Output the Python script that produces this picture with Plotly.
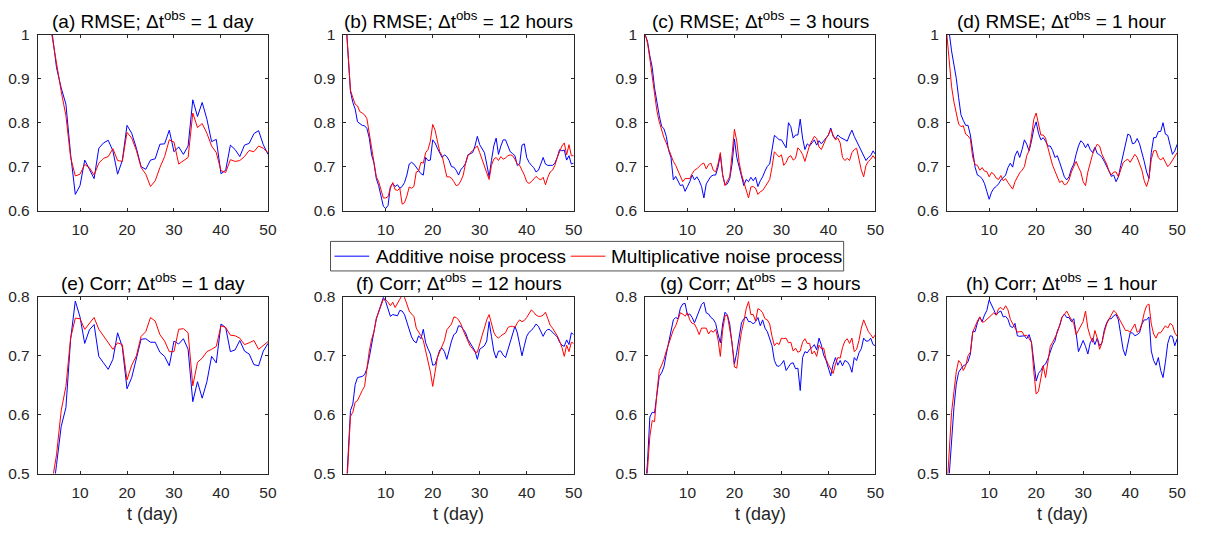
import numpy as np
import plotly.graph_objects as go

# ---------------------------------------------------------------- data
# time axes (day)
t_day = np.arange(1, 51)            # one value per day
t_half = np.arange(1, 50.5, 0.5)    # one value per half day

# (a) RMSE, obs every day
rmse_1d_add = [1.30, 1.18, 1.07, 1.01, 0.925, 0.879, 0.842, 0.728, 0.637, 0.657,
               0.715, 0.694, 0.673, 0.742, 0.754, 0.760, 0.736, 0.683, 0.714, 0.794,
               0.776, 0.742, 0.700, 0.694, 0.715, 0.718, 0.751, 0.752, 0.783, 0.734,
               0.745, 0.728, 0.747, 0.852, 0.814, 0.846, 0.808, 0.757, 0.762, 0.684,
               0.692, 0.749, 0.739, 0.723, 0.749, 0.753, 0.775, 0.782, 0.750, 0.728]
rmse_1d_mul = [1.28, 1.16, 1.06, 1.00, 0.934, 0.871, 0.816, 0.721, 0.679, 0.683,
               0.705, 0.698, 0.681, 0.708, 0.719, 0.723, 0.741, 0.714, 0.712, 0.778,
               0.765, 0.737, 0.698, 0.683, 0.655, 0.668, 0.698, 0.723, 0.761, 0.756,
               0.706, 0.713, 0.721, 0.822, 0.789, 0.798, 0.776, 0.747, 0.732, 0.691,
               0.687, 0.716, 0.712, 0.714, 0.723, 0.737, 0.734, 0.747, 0.742, 0.732]

# (e) Corr, obs every day
corr_1d_add = [0.20, 0.28, 0.36, 0.45, 0.515, 0.580, 0.612, 0.728, 0.793, 0.766,
               0.721, 0.744, 0.753, 0.699, 0.688, 0.677, 0.694, 0.739, 0.715, 0.644,
               0.663, 0.697, 0.728, 0.729, 0.723, 0.723, 0.706, 0.699, 0.683, 0.725,
               0.720, 0.729, 0.711, 0.622, 0.656, 0.628, 0.656, 0.699, 0.688, 0.754,
               0.748, 0.707, 0.710, 0.726, 0.708, 0.703, 0.685, 0.683, 0.708, 0.721]
corr_1d_mul = [0.22, 0.31, 0.40, 0.483, 0.532, 0.607, 0.648, 0.730, 0.764, 0.763,
               0.745, 0.756, 0.765, 0.745, 0.733, 0.723, 0.711, 0.722, 0.719, 0.659,
               0.684, 0.700, 0.733, 0.741, 0.765, 0.759, 0.736, 0.725, 0.707, 0.707,
               0.745, 0.746, 0.739, 0.649, 0.689, 0.696, 0.707, 0.711, 0.716, 0.751,
               0.748, 0.735, 0.734, 0.730, 0.719, 0.722, 0.726, 0.711, 0.718, 0.724]

# (b) RMSE, obs every 12 hours  (rows of ten half-day values: t = 1..5.5, 6..10.5, ...)
rmse_12h_add = [1.12, 1.03, 0.952, 0.871, 0.846, 0.831, 0.802, 0.797, 0.794, 0.793,
                0.787, 0.765, 0.727, 0.708, 0.673, 0.657, 0.633, 0.610, 0.605, 0.612,
                0.655, 0.662, 0.655, 0.659, 0.651, 0.655, 0.664, 0.681, 0.706, 0.710,
                0.706, 0.698, 0.692, 0.684, 0.681, 0.721, 0.714, 0.715, 0.761, 0.754,
                0.742, 0.732, 0.721, 0.727, 0.723, 0.714, 0.700, 0.699, 0.692, 0.681,
                0.694, 0.699, 0.708, 0.727, 0.730, 0.732, 0.747, 0.769, 0.750, 0.742,
                0.732, 0.706, 0.677, 0.714, 0.747, 0.765, 0.728, 0.747, 0.761, 0.761,
                0.747, 0.734, 0.730, 0.725, 0.703, 0.706, 0.749, 0.752, 0.721, 0.710,
                0.703, 0.698, 0.688, 0.692, 0.706, 0.721, 0.706, 0.703, 0.703, 0.703,
                0.708, 0.721, 0.739, 0.736, 0.738, 0.715, 0.725, 0.706, 0.708]
rmse_12h_mul = [1.12, 1.03, 0.940, 0.874, 0.857, 0.842, 0.838, 0.825, 0.822, 0.818,
                0.809, 0.780, 0.743, 0.710, 0.677, 0.666, 0.644, 0.629, 0.629, 0.632,
                0.651, 0.664, 0.648, 0.646, 0.651, 0.615, 0.618, 0.633, 0.654, 0.651,
                0.655, 0.688, 0.690, 0.710, 0.708, 0.732, 0.739, 0.758, 0.796, 0.783,
                0.758, 0.734, 0.725, 0.699, 0.677, 0.677, 0.674, 0.666, 0.657, 0.659,
                0.668, 0.681, 0.708, 0.725, 0.732, 0.737, 0.742, 0.747, 0.732, 0.717,
                0.703, 0.688, 0.671, 0.703, 0.717, 0.721, 0.714, 0.723, 0.717, 0.720,
                0.725, 0.727, 0.725, 0.717, 0.706, 0.703, 0.693, 0.681, 0.666, 0.662,
                0.666, 0.671, 0.678, 0.673, 0.670, 0.676, 0.659, 0.676, 0.688, 0.692,
                0.703, 0.721, 0.736, 0.747, 0.754, 0.727, 0.750, 0.725, 0.725]

# (f) Corr, obs every 12 hours
corr_12h_add = [0.38, 0.46, 0.55, 0.607, 0.618, 0.651, 0.663, 0.664, 0.665, 0.668,
                0.678, 0.697, 0.722, 0.741, 0.763, 0.774, 0.788, 0.799, 0.792, 0.778,
                0.767, 0.770, 0.769, 0.768, 0.777, 0.776, 0.770, 0.758, 0.744, 0.732,
                0.725, 0.722, 0.734, 0.729, 0.745, 0.722, 0.712, 0.703, 0.684, 0.685,
                0.697, 0.710, 0.713, 0.707, 0.694, 0.711, 0.725, 0.736, 0.739, 0.751,
                0.750, 0.745, 0.739, 0.728, 0.721, 0.716, 0.708, 0.694, 0.711, 0.714,
                0.717, 0.725, 0.758, 0.733, 0.708, 0.696, 0.708, 0.708, 0.701, 0.697,
                0.711, 0.725, 0.736, 0.750, 0.739, 0.722, 0.700, 0.717, 0.733, 0.740,
                0.743, 0.748, 0.754, 0.750, 0.741, 0.733, 0.741, 0.745, 0.744, 0.740,
                0.736, 0.732, 0.723, 0.718, 0.716, 0.727, 0.719, 0.739, 0.736]
corr_12h_mul = [0.37, 0.45, 0.54, 0.597, 0.604, 0.621, 0.624, 0.634, 0.641, 0.648,
                0.679, 0.708, 0.728, 0.741, 0.763, 0.774, 0.784, 0.796, 0.795, 0.791,
                0.785, 0.791, 0.782, 0.788, 0.796, 0.803, 0.799, 0.788, 0.776, 0.771,
                0.767, 0.747, 0.741, 0.734, 0.726, 0.707, 0.694, 0.673, 0.648, 0.675,
                0.697, 0.707, 0.717, 0.726, 0.744, 0.750, 0.754, 0.766, 0.765, 0.761,
                0.754, 0.743, 0.734, 0.723, 0.716, 0.712, 0.706, 0.706, 0.722, 0.734,
                0.747, 0.761, 0.770, 0.754, 0.740, 0.733, 0.730, 0.734, 0.736, 0.739,
                0.748, 0.750, 0.750, 0.748, 0.756, 0.761, 0.758, 0.760, 0.765, 0.771,
                0.778, 0.774, 0.769, 0.767, 0.767, 0.769, 0.774, 0.763, 0.752, 0.747,
                0.741, 0.734, 0.725, 0.714, 0.699, 0.718, 0.707, 0.723, 0.721]

# (c) RMSE, obs every 3 hours (read every half day)
rmse_3h_add = [1.000, 0.985, 0.952, 0.926, 0.879, 0.842, 0.816, 0.792, 0.786, 0.769,
               0.737, 0.721, 0.670, 0.678, 0.668, 0.657, 0.659, 0.644, 0.655, 0.666,
               0.681, 0.670, 0.677, 0.668, 0.655, 0.629, 0.661, 0.671, 0.678, 0.681,
               0.681, 0.699, 0.727, 0.681, 0.659, 0.661, 0.673, 0.706, 0.763, 0.721,
               0.698, 0.678, 0.657, 0.671, 0.666, 0.676, 0.668, 0.676, 0.655, 0.668,
               0.677, 0.690, 0.701, 0.706, 0.742, 0.771, 0.767, 0.761, 0.761, 0.752,
               0.743, 0.800, 0.791, 0.765, 0.772, 0.772, 0.808, 0.765, 0.739, 0.752,
               0.747, 0.754, 0.761, 0.749, 0.759, 0.752, 0.759, 0.767, 0.772, 0.788,
               0.769, 0.763, 0.772, 0.767, 0.764, 0.760, 0.758, 0.772, 0.783, 0.769,
               0.758, 0.749, 0.738, 0.725, 0.714, 0.721, 0.725, 0.736, 0.728]
rmse_3h_mul = [1.000, 0.981, 0.945, 0.904, 0.868, 0.827, 0.802, 0.781, 0.766, 0.754,
               0.739, 0.722, 0.712, 0.703, 0.690, 0.676, 0.666, 0.673, 0.673, 0.673,
               0.684, 0.692, 0.695, 0.701, 0.706, 0.708, 0.695, 0.705, 0.708, 0.692,
               0.688, 0.706, 0.732, 0.681, 0.657, 0.668, 0.677, 0.728, 0.785, 0.758,
               0.710, 0.683, 0.664, 0.646, 0.629, 0.654, 0.655, 0.651, 0.637, 0.643,
               0.646, 0.654, 0.664, 0.671, 0.699, 0.734, 0.728, 0.722, 0.727, 0.703,
               0.710, 0.722, 0.725, 0.715, 0.719, 0.743, 0.737, 0.728, 0.712, 0.728,
               0.749, 0.759, 0.769, 0.764, 0.745, 0.739, 0.752, 0.764, 0.772, 0.785,
               0.772, 0.761, 0.765, 0.754, 0.721, 0.714, 0.719, 0.714, 0.732, 0.739,
               0.742, 0.717, 0.692, 0.677, 0.703, 0.712, 0.717, 0.725, 0.717]

# (g) Corr, obs every 3 hours (read every half day)
corr_3h_add = [0.470, 0.519, 0.596, 0.604, 0.603, 0.637, 0.665, 0.671, 0.681, 0.703,
               0.721, 0.739, 0.761, 0.765, 0.763, 0.781, 0.788, 0.789, 0.769, 0.771,
               0.765, 0.756, 0.767, 0.776, 0.787, 0.791, 0.773, 0.771, 0.765, 0.762,
               0.755, 0.737, 0.722, 0.754, 0.774, 0.769, 0.754, 0.719, 0.686, 0.706,
               0.732, 0.756, 0.763, 0.766, 0.758, 0.758, 0.754, 0.758, 0.765, 0.751,
               0.761, 0.747, 0.741, 0.730, 0.717, 0.692, 0.683, 0.682, 0.686, 0.692,
               0.675, 0.681, 0.687, 0.688, 0.678, 0.679, 0.641, 0.697, 0.707, 0.705,
               0.711, 0.714, 0.719, 0.710, 0.730, 0.718, 0.701, 0.692, 0.677, 0.666,
               0.685, 0.697, 0.684, 0.692, 0.683, 0.692, 0.690, 0.684, 0.672, 0.697,
               0.692, 0.705, 0.712, 0.730, 0.725, 0.725, 0.730, 0.719, 0.717]
corr_3h_mul = [0.450, 0.511, 0.563, 0.590, 0.588, 0.637, 0.675, 0.684, 0.694, 0.708,
               0.721, 0.732, 0.744, 0.751, 0.763, 0.773, 0.771, 0.767, 0.773, 0.761,
               0.755, 0.754, 0.746, 0.736, 0.747, 0.747, 0.747, 0.737, 0.743, 0.740,
               0.745, 0.728, 0.699, 0.744, 0.768, 0.769, 0.747, 0.722, 0.681, 0.679,
               0.714, 0.741, 0.758, 0.780, 0.792, 0.770, 0.770, 0.759, 0.780, 0.778,
               0.773, 0.763, 0.761, 0.754, 0.733, 0.717, 0.722, 0.719, 0.730, 0.729,
               0.730, 0.722, 0.723, 0.708, 0.713, 0.706, 0.708, 0.723, 0.729, 0.721,
               0.721, 0.703, 0.708, 0.699, 0.718, 0.712, 0.713, 0.694, 0.685, 0.677,
               0.670, 0.686, 0.697, 0.696, 0.714, 0.725, 0.729, 0.721, 0.730, 0.707,
               0.711, 0.726, 0.747, 0.761, 0.750, 0.741, 0.736, 0.730, 0.736]

# (d) RMSE, obs every hour (read every half day)
rmse_1h_add = [1.000, 1.005, 0.963, 0.930, 0.901, 0.857, 0.818, 0.805, 0.794, 0.794,
               0.772, 0.736, 0.699, 0.681, 0.678, 0.673, 0.662, 0.644, 0.626, 0.642,
               0.651, 0.655, 0.661, 0.670, 0.675, 0.681, 0.698, 0.708, 0.699, 0.725,
               0.736, 0.721, 0.739, 0.761, 0.751, 0.736, 0.758, 0.786, 0.802, 0.776,
               0.761, 0.766, 0.758, 0.747, 0.747, 0.737, 0.721, 0.725, 0.710, 0.695,
               0.677, 0.670, 0.677, 0.695, 0.706, 0.728, 0.747, 0.759, 0.754, 0.743,
               0.752, 0.739, 0.732, 0.744, 0.730, 0.727, 0.721, 0.712, 0.699, 0.690,
               0.678, 0.681, 0.666, 0.677, 0.703, 0.727, 0.744, 0.774, 0.771, 0.752,
               0.754, 0.764, 0.752, 0.734, 0.712, 0.688, 0.673, 0.732, 0.766, 0.766,
               0.780, 0.780, 0.800, 0.774, 0.771, 0.749, 0.728, 0.736, 0.751]
rmse_1h_mul = [1.000, 0.937, 0.882, 0.847, 0.822, 0.797, 0.791, 0.793, 0.774, 0.770,
               0.763, 0.721, 0.705, 0.703, 0.692, 0.698, 0.690, 0.689, 0.677, 0.687,
               0.683, 0.674, 0.671, 0.680, 0.668, 0.673, 0.664, 0.657, 0.649, 0.666,
               0.677, 0.686, 0.692, 0.700, 0.725, 0.737, 0.769, 0.808, 0.822, 0.798,
               0.772, 0.772, 0.765, 0.743, 0.721, 0.703, 0.690, 0.677, 0.664, 0.668,
               0.659, 0.661, 0.670, 0.688, 0.699, 0.712, 0.699, 0.688, 0.666, 0.657,
               0.688, 0.708, 0.728, 0.741, 0.751, 0.747, 0.728, 0.717, 0.706, 0.690,
               0.681, 0.688, 0.688, 0.677, 0.692, 0.709, 0.714, 0.717, 0.710, 0.719,
               0.728, 0.721, 0.708, 0.692, 0.668, 0.655, 0.673, 0.717, 0.736, 0.737,
               0.721, 0.715, 0.721, 0.712, 0.700, 0.706, 0.714, 0.721, 0.732]

# (h) Corr, obs every hour (read every half day)
corr_1h_add = [0.440, 0.500, 0.549, 0.612, 0.652, 0.672, 0.678, 0.683, 0.685, 0.690,
               0.703, 0.741, 0.741, 0.756, 0.766, 0.758, 0.769, 0.777, 0.795, 0.785,
               0.778, 0.769, 0.774, 0.776, 0.766, 0.767, 0.762, 0.750, 0.748, 0.755,
               0.734, 0.733, 0.733, 0.734, 0.729, 0.736, 0.723, 0.690, 0.657, 0.670,
               0.675, 0.683, 0.686, 0.695, 0.707, 0.718, 0.725, 0.742, 0.751, 0.765,
               0.771, 0.765, 0.765, 0.758, 0.763, 0.739, 0.707, 0.718, 0.726, 0.716,
               0.703, 0.722, 0.730, 0.719, 0.730, 0.717, 0.722, 0.744, 0.756, 0.763,
               0.763, 0.768, 0.770, 0.761, 0.739, 0.711, 0.700, 0.719, 0.739, 0.739,
               0.734, 0.736, 0.739, 0.754, 0.761, 0.761, 0.766, 0.708, 0.692, 0.684,
               0.697, 0.675, 0.663, 0.689, 0.721, 0.734, 0.733, 0.717, 0.729]
corr_1h_mul = [0.470, 0.541, 0.604, 0.639, 0.673, 0.692, 0.687, 0.675, 0.683, 0.700,
               0.706, 0.740, 0.750, 0.759, 0.766, 0.757, 0.758, 0.762, 0.765, 0.769,
               0.773, 0.769, 0.780, 0.782, 0.778, 0.785, 0.778, 0.762, 0.755, 0.748,
               0.740, 0.741, 0.741, 0.734, 0.735, 0.729, 0.723, 0.673, 0.635, 0.640,
               0.661, 0.683, 0.663, 0.686, 0.716, 0.723, 0.732, 0.739, 0.752, 0.766,
               0.770, 0.776, 0.768, 0.762, 0.755, 0.736, 0.743, 0.751, 0.758, 0.776,
               0.747, 0.733, 0.723, 0.743, 0.730, 0.711, 0.722, 0.740, 0.754, 0.762,
               0.770, 0.777, 0.773, 0.766, 0.758, 0.751, 0.743, 0.743, 0.740, 0.747,
               0.754, 0.740, 0.743, 0.755, 0.773, 0.785, 0.788, 0.754, 0.737, 0.730,
               0.739, 0.739, 0.744, 0.751, 0.747, 0.755, 0.752, 0.739, 0.733]

titles = ["(a) RMSE; \u0394t<sup>obs</sup> = 1 day",
          "(b) RMSE; \u0394t<sup>obs</sup> = 12 hours",
          "(c) RMSE; \u0394t<sup>obs</sup> = 3 hours",
          "(d) RMSE; \u0394t<sup>obs</sup> = 1 hour",
          "(e) Corr; \u0394t<sup>obs</sup> = 1 day",
          "(f) Corr; \u0394t<sup>obs</sup> = 12 hours",
          "(g) Corr; \u0394t<sup>obs</sup> = 3 hours",
          "(h) Corr; \u0394t<sup>obs</sup> = 1 hour"]
series_names = ["Additive noise process", "Multiplicative noise process"]

rmse_ticks = [0.6, 0.7, 0.8, 0.9, 1.0]
rmse_ticktext = ["0.6", "0.7", "0.8", "0.9", "1"]
corr_ticks = [0.5, 0.6, 0.7, 0.8]
corr_ticktext = ["0.5", "0.6", "0.7", "0.8"]
t_ticks = [10, 20, 30, 40, 50]

# ---------------------------------------------------------------- styling
W, H = 1205, 538
BLUE, RED = "#0000ff", "#ff0000"
AXC = "#262626"
FONT = "Liberation Sans, Arial, Helvetica, sans-serif"
LW = 1.0
col_left = [38, 346, 650, 954]
col_w = 232
row_top = [26.5, 297.3]
row_bot = [208.3, 479.7]

panels = [
    (t_day, rmse_1d_add, rmse_1d_mul),
    (t_half, rmse_12h_add, rmse_12h_mul),
    (t_half, rmse_3h_add, rmse_3h_mul),
    (t_half, rmse_1h_add, rmse_1h_mul),
    (t_day, corr_1d_add, corr_1d_mul),
    (t_half, corr_12h_add, corr_12h_mul),
    (t_half, corr_3h_add, corr_3h_mul),
    (t_half, corr_1h_add, corr_1h_mul),
]
for tt, add, mul in panels:
    assert len(add) == len(tt) and len(mul) == len(tt), (len(tt), len(add), len(mul))

fig = go.Figure()
layout = {}
annotations = []
for i, (tt, add, mul) in enumerate(panels):
    r, c = divmod(i, 4)
    n = i + 1
    xs = "x" if n == 1 else f"x{n}"
    ys = "y" if n == 1 else f"y{n}"
    fig.add_trace(go.Scatter(x=tt, y=add, mode="lines", xaxis=xs, yaxis=ys,
                             line=dict(color=BLUE, width=LW),
                             name=series_names[0], showlegend=False))
    fig.add_trace(go.Scatter(x=tt, y=mul, mode="lines", xaxis=xs, yaxis=ys,
                             line=dict(color=RED, width=LW),
                             name=series_names[1], showlegend=False))
    x0 = col_left[c] / W
    x1 = (col_left[c] + col_w) / W
    y0 = 1 - row_bot[r] / H
    y1 = 1 - row_top[r] / H
    common = dict(showline=True, mirror="allticks", linecolor=AXC, linewidth=0.8,
                  ticks="inside", ticklen=3, tickcolor=AXC, tickwidth=0.8,
                  showgrid=False, zeroline=False,
                  tickfont=dict(family=FONT, size=15.5, color=AXC))
    key = "" if n == 1 else str(n)
    layout["xaxis" + key] = dict(domain=[x0, x1], range=[1, 50], anchor=ys,
                                 tickvals=t_ticks, ticklabelstandoff=5, **common)
    if r == 0:
        yr, tv, tx = [0.6, 1.0], rmse_ticks, rmse_ticktext
    else:
        yr, tv, tx = [0.5, 0.8], corr_ticks, corr_ticktext
    layout["yaxis" + key] = dict(domain=[y0, y1], range=yr, anchor=xs,
                                 tickvals=tv, ticktext=tx, ticklabelstandoff=4,
                                 **common)
    annotations.append(dict(text=titles[i], xref="paper", yref="paper",
                            x=(col_left[c] + col_w / 2) / W,
                            y=1 - (row_top[r] - 0.5) / H,
                            xanchor="center", yanchor="bottom", showarrow=False,
                            font=dict(family=FONT, size=19, color="#000000")))
    if r == 1:
        annotations.append(dict(text="t (day)", xref="paper", yref="paper",
                                x=(col_left[c] + col_w / 2) / W, y=1 - 521 / H,
                                xanchor="center", yanchor="middle", showarrow=False,
                                font=dict(family=FONT, size=18, color=AXC)))

# shared legend box between the two rows of panels
leg_box = (333, 240, 850, 270.5)            # left, top, right, bottom (px)
leg_keys = [(BLUE, 337, 372, 377), (RED, 575, 610, 614)]   # colour, key x0, key x1, text x
leg_y = (leg_box[1] + leg_box[3]) / 2
shapes = [dict(type="rect", xref="paper", yref="paper",
               x0=leg_box[0] / W, x1=leg_box[2] / W,
               y0=1 - leg_box[3] / H, y1=1 - leg_box[1] / H,
               line=dict(color=AXC, width=0.8), fillcolor="white", layer="above")]
for (colr, kx0, kx1, tx0), label in zip(leg_keys, series_names):
    shapes.append(dict(type="line", xref="paper", yref="paper",
                       x0=kx0 / W, x1=kx1 / W, y0=1 - leg_y / H, y1=1 - leg_y / H,
                       line=dict(color=colr, width=LW), layer="above"))
    annotations.append(dict(text=label, xref="paper", yref="paper",
                            x=tx0 / W, y=1 - leg_y / H, xanchor="left", yanchor="middle",
                            showarrow=False,
                            font=dict(family=FONT, size=19, color="#000000")))

fig.update_layout(
    width=W, height=H,
    margin=dict(l=0, r=0, t=0, b=0),
    paper_bgcolor="white", plot_bgcolor="white",
    annotations=annotations,
    shapes=shapes,
    showlegend=False,
    **layout,
)

fig.write_html("out.html")
